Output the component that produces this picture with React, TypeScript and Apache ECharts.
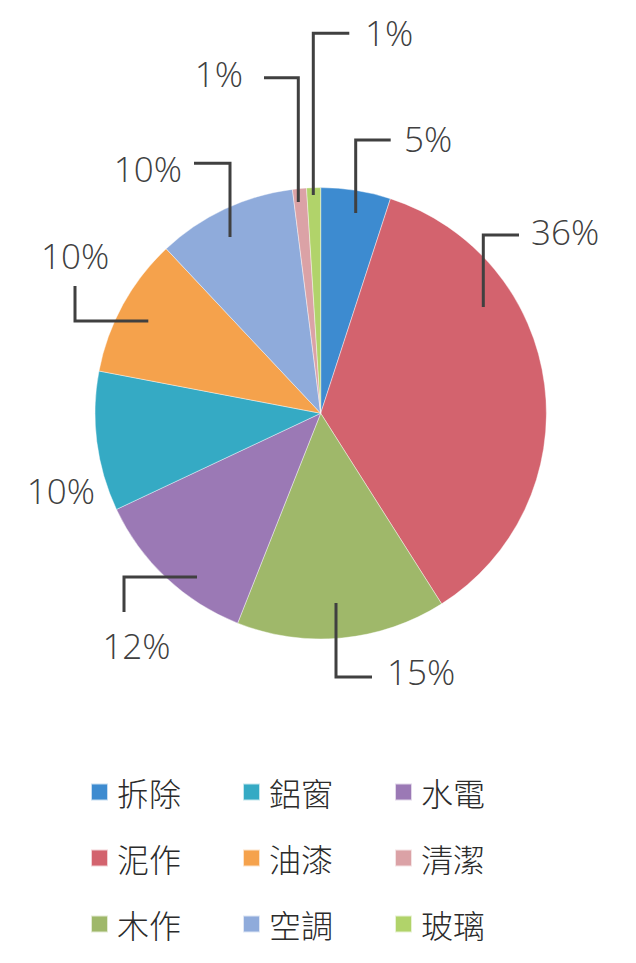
import { useEffect, useRef } from "react";
import * as echarts from "echarts";

// slices, clockwise from 12 o'clock
const names = ["拆除", "泥作", "木作", "水電", "鋁窗", "油漆", "空調", "清潔", "玻璃"];
const values = [5, 36, 15, 12, 10, 10, 10, 1, 1];
const colors = ["#3d8bd0", "#d3636e", "#9fb86a", "#9b79b5", "#35aac4", "#f5a24c", "#8fabdb", "#dba2a6", "#b1d36a"];

// legend rows as they appear under the pie
const legendRows = [
  ["拆除", "鋁窗", "水電"],
  ["泥作", "油漆", "清潔"],
  ["木作", "空調", "玻璃"],
];

// hand-placed data labels (Excel style elbows) — layout only, per slice index
type LabelPos = { x: number; y: number; align: "left" | "right" | "center"; line?: number[][] };
const LABEL_POS: LabelPos[] = [
  { x: 404, y: 138, align: "left", line: [[355.7, 213], [355.7, 140], [390.7, 140]] },
  { x: 531, y: 231, align: "left", line: [[483.3, 307], [483.3, 235], [519, 235]] },
  { x: 387, y: 671, align: "left", line: [[336, 603], [336, 677], [372, 677]] },
  { x: 136.5, y: 645, align: "center", line: [[197, 577], [124, 577], [124, 612]] },
  { x: 95, y: 490, align: "right" },
  { x: 41, y: 255, align: "left", line: [[148.3, 321], [75, 321], [75, 286]] },
  { x: 182, y: 168, align: "right", line: [[230, 237], [230, 163.3], [194, 163.3]] },
  { x: 243, y: 73, align: "right", line: [[298.3, 202], [298.3, 77.7], [264, 77.7]] },
  { x: 365, y: 32, align: "left", line: [[313.3, 195], [313.3, 33.3], [349.3, 33.3]] },
];

const LEGEND_ROW_Y = [792, 858, 924];
const CENTER = [320.7, 413.3];
const RADIUS = 225.7;

export default function App() {
  const elRef = useRef<HTMLDivElement>(null);

  useEffect(() => {
    if (!elRef.current) return;
    const chart = echarts.init(elRef.current, undefined, { renderer: "svg" });

    const slices = names.map((n, i) => ({ name: n, value: values[i], itemStyle: { color: colors[i] } }));
    // same values again, invisible sectors, only to carry labels + leader lines above the slices
    const labelled = names.map((n, i) => ({
      name: n,
      value: values[i],
      labelLine: { show: !!LABEL_POS[i].line },
    }));

    chart.setOption({
      animation: false,
      backgroundColor: "#ffffff",
      legend: legendRows.map((row, r) => ({
        data: row,
        orient: "horizontal",
        left: 90,
        top: LEGEND_ROW_Y[r] - 18,
        padding: 0,
        itemWidth: 17,
        itemHeight: 17,
        itemGap: 61,
        icon: "rect",
        selectedMode: false,
        textStyle: {
          fontFamily: "Noto Sans CJK TC",
          fontSize: 32,
          fontWeight: 300,
          lineHeight: 36,
          color: "#2b2b2b",
          padding: [0, 0, 0, 4],
        },
      })),
      series: [
        {
          type: "pie",
          z: 2,
          center: CENTER,
          radius: RADIUS,
          startAngle: 90,
          clockwise: true,
          data: slices,
          itemStyle: { borderColor: "rgba(255,255,255,0.7)", borderWidth: 0.6 },
          emphasis: { disabled: true },
          label: { show: false },
          labelLine: { show: false },
        },
        {
          type: "pie",
          z: 3,
          silent: true,
          legendHoverLink: false,
          center: CENTER,
          radius: RADIUS,
          startAngle: 90,
          clockwise: true,
          percentPrecision: 0,
          avoidLabelOverlap: false,
          data: labelled,
          itemStyle: { color: "rgba(0,0,0,0)", borderWidth: 0 },
          emphasis: { disabled: true },
          label: {
            show: true,
            position: "outside",
            formatter: "{d}%",
            fontFamily: "Open Sans",
            fontWeight: 300,
            fontSize: 35,
            color: "#404040",
          },
          labelLine: {
            show: true,
            smooth: false,
            lineStyle: { color: "#404040", width: 3, opacity: 1 },
          },
          labelLayout: (p: any) => {
            const pos = LABEL_POS[p.dataIndex];
            const out: any = { x: pos.x, y: pos.y, align: pos.align, verticalAlign: "middle" };
            if (pos.line) out.labelLinePoints = pos.line;
            return out;
          },
        },
      ],
    });

    return () => chart.dispose();
  }, []);

  return <div ref={elRef} style={{ position: "absolute", left: 0, top: 0, width: 636, height: 963 }} />;
}
